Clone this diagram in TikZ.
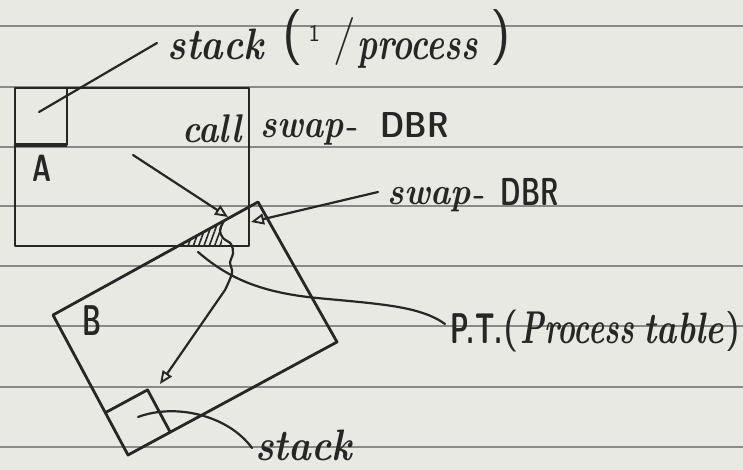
\documentclass[tikz,border=0pt]{standalone}
\usepackage{fontspec}
\usepackage{graphicx}
\usetikzlibrary{arrows.meta,patterns.meta,calc}
\definecolor{paper}{HTML}{E9E9E4}
\definecolor{ink}{HTML}{262626}
\definecolor{ruleline}{HTML}{8A8A8A}
\newcommand{\fs}[1]{\fontsize{#1}{#1}\selectfont}
\newcommand{\putat}[2]{\makebox[0pt][l]{\hspace{#1}#2}}
\newcommand{\cur}[3]{\resizebox{#2}{\height}{\fs{#1}\bfseries\itshape #3}}
\newcommand{\capt}[3]{\resizebox{#2}{\height}{\fs{#1}\sffamily\bfseries #3}}
\begin{document}
\begin{tikzpicture}[x=1pt,y=-1pt,
  inkline/.style={draw=ink,line width=2.8pt,line join=round,line cap=round},
  leader/.style={draw=ink,line width=2.2pt,line cap=round,line join=round},
  tipo/.style={-{Triangle[open,length=13pt,width=11pt,line width=1.9pt]}},
  hand/.style={text=ink,inner sep=0pt,anchor=base west},
  ruled/.style={draw=ruleline,line width=1.3pt}]
\fill[paper] (0,0) rectangle (743,470);
\useasboundingbox (0,0) rectangle (743,470);
\foreach \yy in {26,87,147,206,266,326,387,447} \draw[ruled] (0,\yy) -- (743,\yy);

% coordinates
\coordinate (AtopL) at (15,88);
\coordinate (AbotR) at (249,246);
\coordinate (BL) at (53,315);
\coordinate (BT) at (258,202);
\coordinate (BR) at (337,342);
\coordinate (BB) at (128,455);
\coordinate (P1) at ($(BB)!48pt!(BL)$);
\coordinate (P3) at ($(BB)!48pt!(BR)$);
\coordinate (P2) at ($(P1)+(P3)-(BB)$);

% hatch
\coordinate (hA) at (180,246);
\coordinate (hB) at (222,223);
\coordinate (hC) at (222,246);
\fill[pattern={Lines[angle=70,distance=5pt,line width=1.6pt]},pattern color=ink] (hA) -- (hB) -- (hC) -- cycle;

% box A and its stack
\draw[inkline] (AtopL) rectangle (AbotR);
\draw[inkline] (15,145) -- (67,145) -- (67,88);
\draw[ink,line width=3.4pt] (15,145) -- (67,145);

% box B and its stack
\draw[inkline] (BL) -- (BT) -- (BR) -- (BB) -- cycle;
\draw[inkline] (P1) -- (P2) -- (P3);

% labels
\node[hand] (stacklbl) at (167,60) {\putat{0pt}{\cur{44}{96pt}{stack}}%
  \putat{115pt}{\raisebox{8pt}{\fs{56}\sffamily (}}%
  \putat{141pt}{\raisebox{18pt}{\fs{24}\sffamily 1}}%
  \putat{166pt}{\raisebox{6pt}{\fs{48}\sffamily /}}%
  \putat{190pt}{\cur{46}{120pt}{process}}%
  \putat{323pt}{\raisebox{8pt}{\fs{56}\sffamily )}}\hspace{345pt}};
\node[hand] (calllbl) at (182,143) {\cur{40}{60pt}{call}};
\node[hand] (swap1) at (260,138) {\putat{0pt}{\cur{40}{83pt}{swap}}%
  \putat{86pt}{\fs{34}\sffamily\bfseries -}%
  \putat{120pt}{\capt{36}{68pt}{DBR}}\hspace{188pt}};
\node[text=ink,inner sep=0pt] (Alabel) at (42,168) {\capt{38}{19pt}{A}};
\node[hand] (swap2) at (387,205) {\putat{0pt}{\cur{38}{83pt}{swap}}%
  \putat{86pt}{\fs{34}\sffamily\bfseries -}%
  \putat{113pt}{\capt{39}{58pt}{DBR}}\hspace{171pt}};
\node[text=ink,inner sep=0pt] (Blabel) at (92,321) {\capt{43}{19pt}{B}};
\node[hand] (ptlbl) at (450,343) {\putat{0pt}{\capt{43}{52pt}{P.T.}}%
  \putat{53pt}{\raisebox{2pt}{\fs{42}\sffamily (}}%
  \putat{70pt}{\cur{46}{113pt}{Process}}%
  \putat{193pt}{\cur{44}{80pt}{table}}%
  \putat{275pt}{\raisebox{2pt}{\fs{40}\sffamily )}}\hspace{290pt}};
\node[hand] (stackB) at (255,460) {\cur{44}{97pt}{stack}};

% leaders
\coordinate (sAin) at (39,112);
\coordinate (sAend) at (157,43);
\draw[leader] (sAin) -- (sAend);

\coordinate (callFrom) at (133,155);
\coordinate (callTo) at (228,217);
\draw[leader,tipo] (callFrom) -- (callTo);

\coordinate (swapFrom) at (378,192);
\coordinate (swapTo) at (251,222);
\draw[leader,tipo] (swapFrom) -- (swapTo);

\coordinate (tearEnd) at (160,384);
\draw[leader,tipo] plot[smooth,tension=0.6] coordinates {(224,221) (220,230) (223,238) (231,244) (233,253) (230,263) (232,273) (225,290)} -- (tearEnd);

\coordinate (ptFrom) at (198,252);
\coordinate (ptTo) at (445,324);
\draw[leader] (ptFrom) .. controls (225,275) and (255,292) .. (317,298) .. controls (380,304) and (420,306) .. (ptTo);

\coordinate (sBin) at (138,417);
\coordinate (sBend) at (252,448);
\draw[leader] (sBin) .. controls (175,403) and (228,415) .. (sBend);
\end{tikzpicture}
\end{document}
